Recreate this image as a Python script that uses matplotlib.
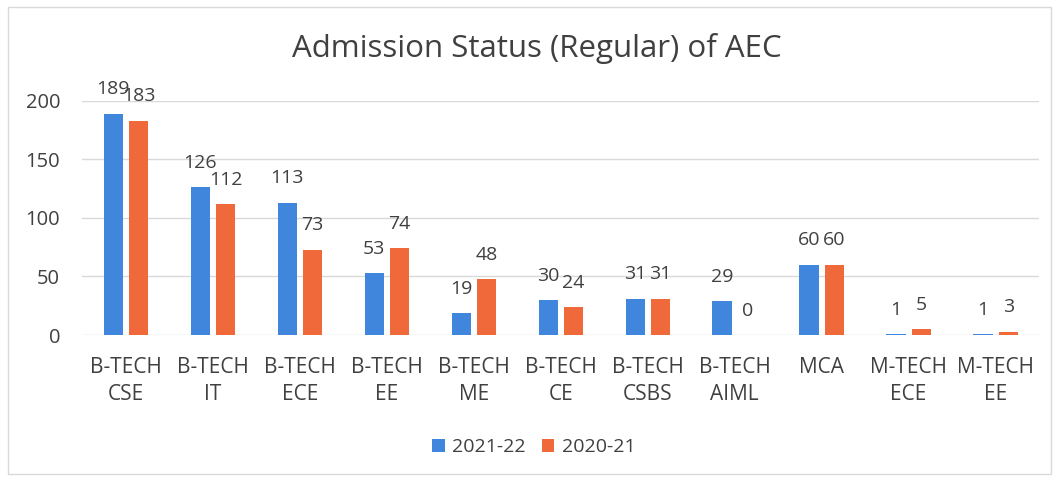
import numpy as np
import matplotlib
matplotlib.use("Agg")
import matplotlib.pyplot as plt
from matplotlib.patches import Rectangle

plt.rcParams['font.family'] = ['Open Sans', 'DejaVu Sans']

# Data
courses = ['B-TECH\nCSE', 'B-TECH\nIT', 'B-TECH\nECE', 'B-TECH\nEE', 'B-TECH\nME',
           'B-TECH\nCE', 'B-TECH\nCSBS', 'B-TECH\nAIML', 'MCA', 'M-TECH\nECE', 'M-TECH\nEE']
admit_2021_22 = [189, 126, 113, 53, 19, 30, 31, 29, 60, 1, 1]
admit_2020_21 = [183, 112, 73, 74, 48, 24, 31, 0, 60, 5, 3]
series_names = ['2021-22', '2020-21']

blue = '#3F86DC'
orange = '#F0693A'
text_col = '#404040'

fig = plt.figure(figsize=(10.57, 4.80), dpi=100)
ax = fig.add_axes([0.078, 0.302, 0.905, 0.488])

x = np.arange(len(courses))
w = 0.22
gap = 0.035
b1 = ax.bar(x - w / 2 - gap, admit_2021_22, width=w, color=blue, label=series_names[0], zorder=3)
b2 = ax.bar(x + w / 2 + gap, admit_2020_21, width=w, color=orange, label=series_names[1], zorder=3)

for bars in (b1, b2):
    ax.bar_label(bars, padding=11, fontsize=14, color=text_col, clip_on=False)

ax.set_xlim(-0.5, len(courses) - 0.5)
ax.set_ylim(0, 200)
ax.set_yticks([0, 50, 100, 150, 200])
ax.yaxis.grid(True, color='#D9D9D9', linewidth=1.0, zorder=0)
ax.set_axisbelow(True)
ax.set_xticks(x)
ax.set_xticklabels(courses, linespacing=1.35)
ax.tick_params(axis='x', length=0, pad=16, labelsize=15, labelcolor=text_col)
ax.tick_params(axis='y', length=0, pad=16, labelsize=14.5, labelcolor=text_col)
for s in ax.spines.values():
    s.set_visible(False)

fig.text(0.508, 0.9, 'Admission Status (Regular) of AEC', ha='center', va='center',
         fontsize=22.5, color=text_col)

fig.legend(handles=[b1, b2], labels=series_names, loc='center', bbox_to_anchor=(0.505, 0.069),
           ncol=2, frameon=False, fontsize=14, handlelength=0.65, handleheight=0.65,
           handletextpad=0.4, columnspacing=0.8, labelcolor=text_col)

# outer chart border
fig.patches.append(Rectangle((0.008, 0.012), 0.986, 0.973, transform=fig.transFigure,
                             fill=False, edgecolor='#D9D9D9', linewidth=1.0))

fig.savefig('out.png', dpi=100)
